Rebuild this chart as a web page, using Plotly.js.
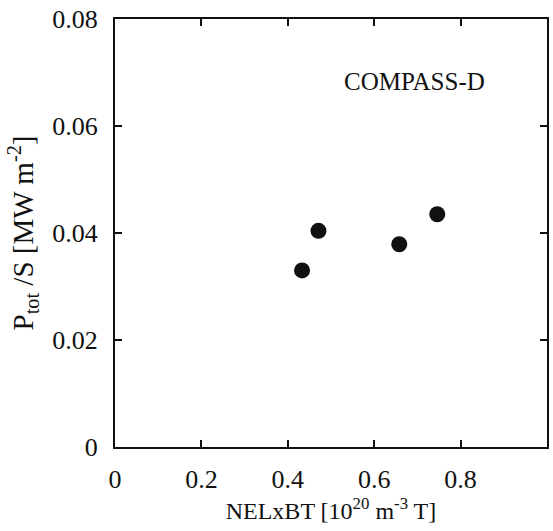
<!DOCTYPE html>
<html>
<head>
<meta charset="utf-8">
<script src="https://cdn.plot.ly/plotly-3.0.1.min.js"></script>
<style>
html,body{margin:0;padding:0;background:#fff;}
#chart{width:553px;height:531px;}
</style>
</head>
<body>
<div id="chart"></div>
<script>
const nelxbt = [0.433, 0.471, 0.658, 0.746];
const ptotS = [0.0330, 0.0404, 0.0379, 0.0435];
const xTicks = [0, 0.2, 0.4, 0.6, 0.8, 1];
const xTickText = ["0", "0.2", "0.4", "0.6", "0.8", "1"];
const yTicks = [0, 0.02, 0.04, 0.06, 0.08];
const yTickText = ["0", "0.02", "0.04", "0.06", "0.08"];

const fontFam = "Liberation Serif";
const ink = "#111";

const trace = {
  x: nelxbt, y: ptotS, type: "scatter", mode: "markers",
  marker: {size: 16, color: ink},
  hoverinfo: "skip", showlegend: false
};

const layout = {
  width: 553, height: 531,
  margin: {l: 115, r: 6, t: 19, b: 84},
  paper_bgcolor: "#fff", plot_bgcolor: "#fff",
  font: {family: fontFam, color: ink, size: 26},
  xaxis: {
    range: [0, 1], tickmode: "array", tickvals: xTicks, ticktext: xTickText,
    ticks: "inside", ticklen: 7, tickwidth: 2, tickcolor: ink,
    showline: true, linewidth: 2, linecolor: ink, mirror: "ticks",
    showgrid: false, zeroline: false,
    tickfont: {family: fontFam, size: 26, color: ink},
    ticklabelstandoff: 8,
    title: {text: "NELxBT [10<sup>20</sup> m<sup>-3</sup> T]", font: {family: fontFam, size: 24, color: ink}, standoff: 2}
  },
  yaxis: {
    range: [0, 0.08], tickmode: "array", tickvals: yTicks, ticktext: yTickText,
    ticks: "inside", ticklen: 7, tickwidth: 2, tickcolor: ink,
    showline: true, linewidth: 2, linecolor: ink, mirror: "ticks",
    showgrid: false, zeroline: false,
    tickfont: {family: fontFam, size: 26, color: ink},
    ticklabelstandoff: 10,
    title: {text: "P<sub>tot</sub> /S [MW m<sup>-2</sup>]", font: {family: fontFam, size: 29, color: ink}, standoff: 10}
  },
  annotations: [{
    text: "COMPASS-D", xref: "paper", yref: "paper",
    x: 0.694, y: 0.853, xanchor: "center", yanchor: "middle",
    showarrow: false, font: {family: fontFam, size: 25, color: ink}
  }]
};

Plotly.newPlot("chart", [trace], layout, {staticPlot: true, displayModeBar: false});
</script>
</body>
</html>
